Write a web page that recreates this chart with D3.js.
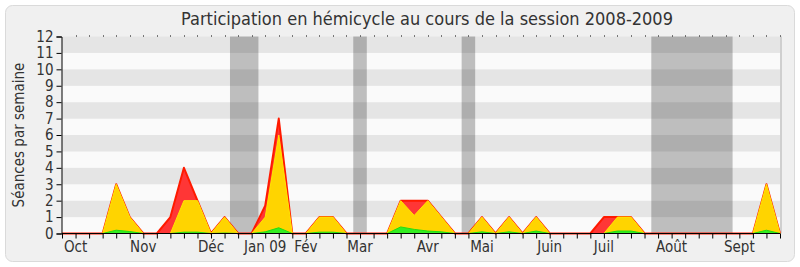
<!DOCTYPE html>
<html>
<head>
<meta charset="utf-8">
<script src="https://cdn.jsdelivr.net/npm/d3@7"></script>
<style>
  body { margin: 0; background: #fff; }
  svg { display: block; font-family: "DejaVu Sans Condensed", "Liberation Sans Narrow", "DejaVu Sans", sans-serif; font-stretch: condensed; }
</style>
</head>
<body>
<svg width="800" height="267"></svg>
<script>
"use strict";

// weekly values, session 2008-2009 (week 0 .. 53)
const presences      = [0,0,0,0,3,1,0,0,1,4,2,0,1,0,0,1.7,7,0,0,1,1,0,0,0,0,2,2,2,1,0,0,1,0,1,0,1,0,0,0,0,1,1,1,0,0,0,0,0,0,0,0,0,3,0]
const participations = [0,0,0,0,3,1,0,0,0,2,2,0,1,0,0,1,6,0,0,1,1,0,0,0,0,2,1.1,2,1,0,0,1,0,1,0,1,0,0,0,0,0,1,1,0,0,0,0,0,0,0,0,0,3,0]
const interventions  = [0,0,0,0,0.2,0.12,0,0,0,0.08,0.08,0,0.03,0,0,0.1,0.35,0,0,0.08,0.08,0,0,0,0,0.4,0.25,0.15,0.1,0,0,0.1,0,0.1,0,0.15,0,0,0,0,0,0.15,0.15,0,0,0,0,0,0,0,0,0,0.2,0]

// month labels placed at a week index
const months     = ['Oct','Nov','Déc','Jan 09','Fév','Mar','Avr','Mai','Juin','Juil','Août','Sept']
const monthWeeks = [1, 6, 11, 15, 18, 22, 27, 31, 36, 40, 45, 50]

// parliamentary breaks, in week units
const vacances = [[12.4, 14.5], [21.5, 22.5], [29.5, 30.5], [43.5, 49.5]]

const yTicks = d3.range(0, 13)

;(function() {
	const svg = d3.select('svg')
	const W = 800, H = 267
	const mL = 62, mR = 780, mT = 36.5, mB = 233.5

	svg.append('rect')
		.attr('x', 5.5).attr('y', 5.5).attr('width', W - 11).attr('height', H - 11)
		.attr('rx', 7).attr('fill', '#f0f0f0').attr('stroke', '#dadada')

	const weeks = d3.range(presences.length)
	const x = d3.scaleLinear().domain([0, weeks.length - 1]).range([mL, mR])
	const y = d3.scaleLinear().domain([0, 12]).range([mB, mT])

	// shadow on the right of the plot
	svg.append('rect')
		.attr('x', mR).attr('y', mT).attr('width', 2).attr('height', mB - mT)
		.attr('fill', '#cfcfcf')

	// horizontal bands
	svg.append('g').selectAll('rect')
		.data(d3.range(0, 12))
		.join('rect')
		.attr('x', mL).attr('width', mR - mL)
		.attr('y', d => y(d + 1)).attr('height', d => y(d) - y(d + 1))
		.attr('fill', d => d % 2 ? '#e5e5e5' : '#fafafa')

	// breaks
	svg.append('g').selectAll('rect')
		.data(vacances)
		.join('rect')
		.attr('x', d => x(d[0])).attr('width', d => x(d[1]) - x(d[0]))
		.attr('y', mT).attr('height', mB - mT)
		.attr('fill', 'rgba(0,0,0,0.24)')

	const area = vals => d3.area()
		.x((d, i) => x(i))
		.y0(y(0))
		.y1((d, i) => y(vals[i]))(weeks)
	const edge = vals => d3.line()
		.x((d, i) => x(i))
		.y((d, i) => y(vals[i]))(weeks)

	const series = [
		{vals: presences,      fill: '#ff3636', stroke: '#ff1a00', w: 2},
		{vals: participations, fill: '#ffd400', stroke: '#ffe600', w: 1},
		{vals: interventions,  fill: '#33ee22', stroke: '#22dd11', w: 1}
	]
	series.forEach(s => {
		svg.append('path').attr('d', area(s.vals)).attr('fill', s.fill)
		svg.append('path').attr('d', edge(s.vals))
			.attr('fill', 'none').attr('stroke', s.stroke)
			.attr('stroke-width', s.w).attr('stroke-linejoin', 'round')
	})

	// axes
	const yAxis = svg.append('g')
		.attr('transform', `translate(${mL - 0.5},0)`)
		.call(d3.axisLeft(y).tickValues(yTicks).tickSize(5).tickPadding(3).tickFormat(d3.format('d')))
	yAxis.attr('font-family', null).attr('font-size', null)
	yAxis.selectAll('text').attr('font-size', 15).attr('fill', '#333')
	yAxis.selectAll('line, path').attr('stroke', '#000')

	const xAxis = svg.append('g')
		.attr('transform', `translate(0,${mB})`)
		.call(d3.axisBottom(x).tickValues(weeks).tickSize(5).tickFormat(''))
	xAxis.select('.domain').remove()
	svg.append('line')
		.attr('x1', mL).attr('x2', mR).attr('y1', mB).attr('y2', mB)
		.attr('stroke', '#000')

	svg.append('g').selectAll('text')
		.data(months)
		.join('text')
		.attr('x', (d, i) => x(monthWeeks[i]))
		.attr('y', mB + 18)
		.attr('text-anchor', 'middle')
		.attr('font-size', 15)
		.attr('fill', '#333')
		.text(d => d)

	// small dots along the top edge
	svg.append('g').selectAll('rect')
		.data(weeks.slice(1))
		.join('rect')
		.attr('x', d => Math.round(x(d))).attr('y', mT - 1)
		.attr('width', 1).attr('height', 1)
		.attr('fill', '#000')

	svg.append('text')
		.attr('x', (mL + mR) / 2 + 6).attr('y', 25)
		.attr('text-anchor', 'middle')
		.attr('font-size', 18)
		.attr('fill', '#333')
		.text('Participation en hémicycle au cours de la session 2008-2009')

	svg.append('text')
		.attr('transform', `translate(24,${(mT + mB) / 2}) rotate(-90)`)
		.attr('text-anchor', 'middle')
		.attr('font-size', 15)
		.attr('fill', '#333')
		.text('Séances par semaine')
})()
</script>
</body>
</html>
